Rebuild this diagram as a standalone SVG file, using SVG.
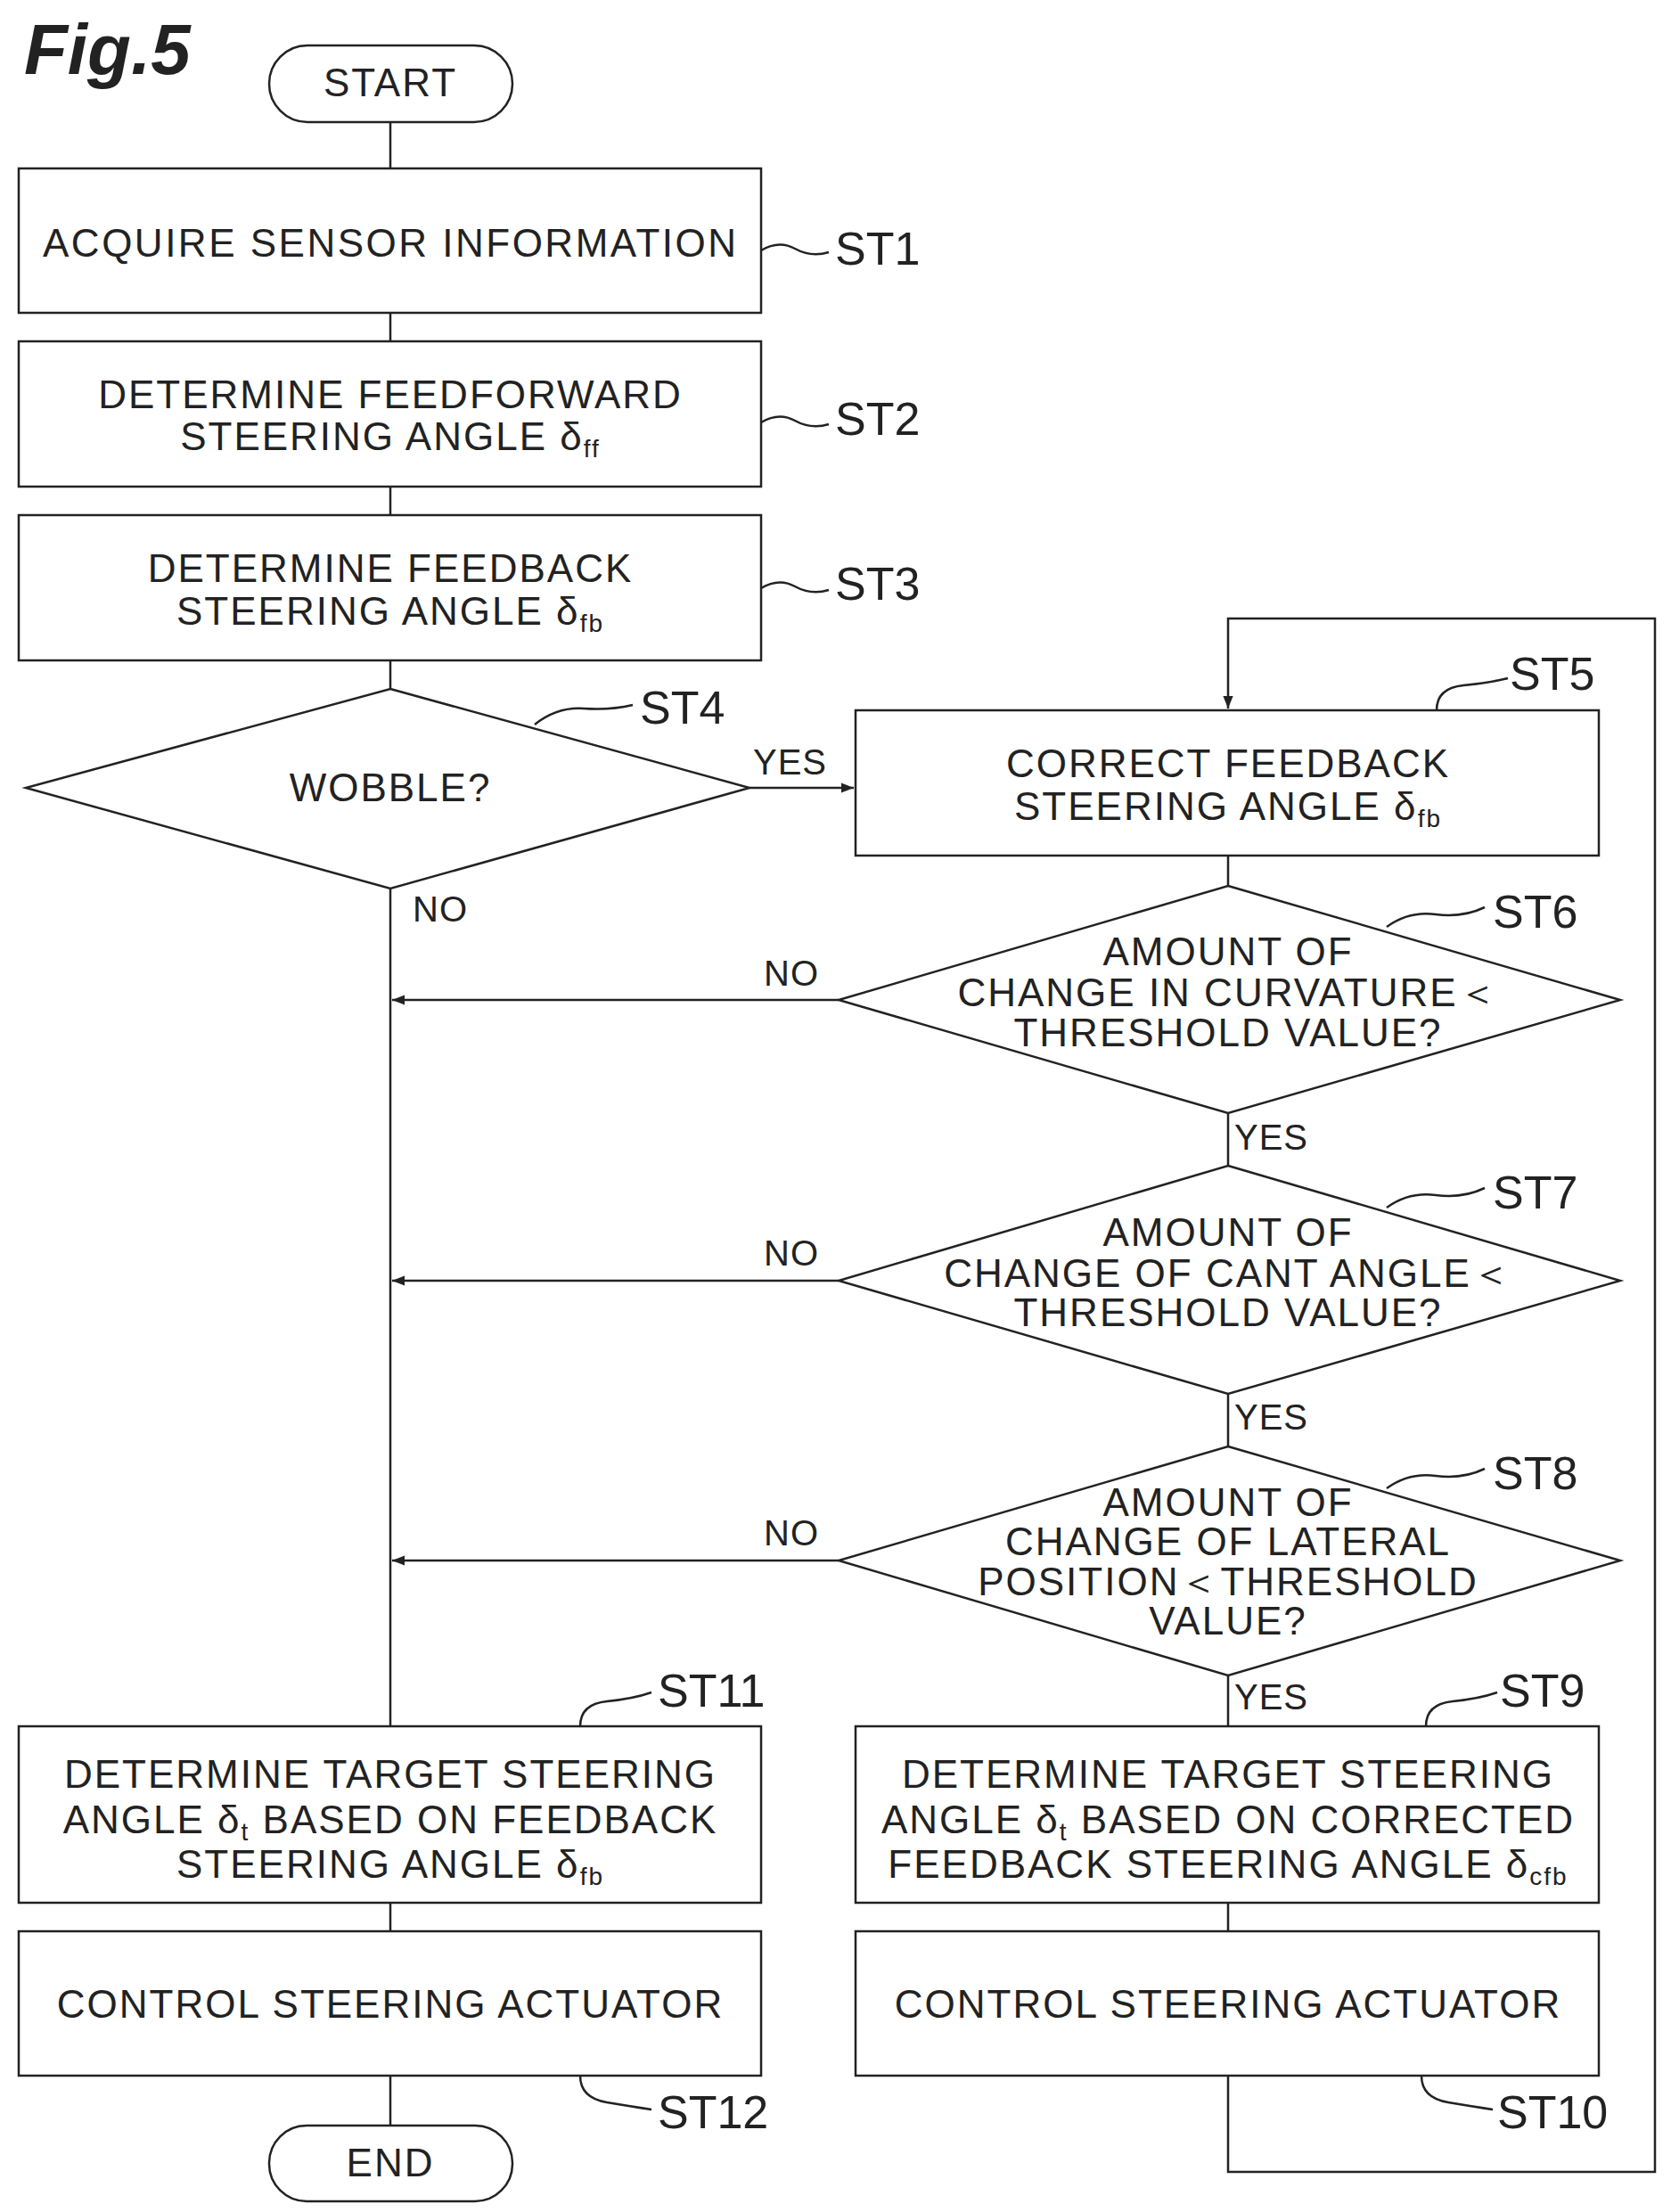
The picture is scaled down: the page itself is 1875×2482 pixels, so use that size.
<svg xmlns="http://www.w3.org/2000/svg" width="1875" height="2482" viewBox="0 0 1875 2482">
<defs>
<style>
.s{fill:none;stroke:#222;stroke-width:2.5}
.b{fill:#fff;stroke:#222;stroke-width:2.5}
text{font-family:"Liberation Sans",Arial,sans-serif;fill:#222}
.t{font-size:44px;text-anchor:middle;letter-spacing:2px}
.l{font-size:52px}
.y{font-size:40px;letter-spacing:1px}
.sub{font-size:28px}
</style>
<marker id="a" viewBox="0 0 10 10" refX="10" refY="5" markerWidth="14" markerHeight="14" markerUnits="userSpaceOnUse" orient="auto"><path d="M0,1 L10,5 L0,9 z" fill="#222"/></marker>
</defs>
<rect width="1875" height="2482" fill="#fff"/>
<text x="27" y="83" style="font-size:80px;font-weight:bold;font-style:italic">Fig.5</text>
<g id="connectors" class="s">
<path d="M438 137V189M438 351V383M438 546V578M438 741V773M438 997V1937M438 2135V2167M438 2329V2385"/>
<path d="M841 884H958" marker-end="url(#a)"/>
<path d="M1378 960V994M1378 1249V1308M1378 1564V1623M1378 1880V1937M1378 2135V2167"/>
<path d="M1378 2329V2437H1857V694H1378V795" marker-end="url(#a)"/>
<path d="M941 1122H440" marker-end="url(#a)"/>
<path d="M941 1437H440" marker-end="url(#a)"/>
<path d="M941 1751H440" marker-end="url(#a)"/>
<path d="M854 281q20 -12 38 -2t38 4"/>
<path d="M854 474q20 -12 38 -2t38 4"/>
<path d="M854 660q20 -12 38 -2t38 4"/>
<path d="M600 813q25 -20 55 -18t55 -4"/>
<path d="M1612 797q0 -25 30 -28t50 -8"/>
<path d="M1556 1040q25 -18 55 -14t55 -8"/>
<path d="M1556 1355q25 -18 55 -14t55 -8"/>
<path d="M1556 1670q25 -18 55 -14t55 -8"/>
<path d="M651 1937q0 -25 30 -28t50 -10"/>
<path d="M1600 1937q0 -25 30 -28t50 -10"/>
<path d="M651 2329q0 25 30 30t50 8"/>
<path d="M1595 2329q0 25 30 30t50 8"/>
</g>
<g id="start"><rect class="b" x="302" y="51" width="273" height="86" rx="43"/><text class="t" x="438" y="108">START</text></g>
<g id="st1"><rect class="b" x="21" y="189" width="833" height="162"/><text class="t" x="438" y="288" textLength="780">ACQUIRE SENSOR INFORMATION</text><text class="l" x="937" y="297">ST1</text></g>
<g id="st2"><rect class="b" x="21" y="383" width="833" height="163"/><text class="t" x="438" y="458">DETERMINE FEEDFORWARD</text><text class="t" x="438" y="505">STEERING ANGLE δ<tspan class="sub" dy="8">ff</tspan></text><text class="l" x="937" y="488">ST2</text></g>
<g id="st3"><rect class="b" x="21" y="578" width="833" height="163"/><text class="t" x="438" y="653">DETERMINE FEEDBACK</text><text class="t" x="438" y="701">STEERING ANGLE δ<tspan class="sub" dy="8">fb</tspan></text><text class="l" x="937" y="673">ST3</text></g>
<g id="st4"><polygon class="b" points="438,773 841,884 438,997 29,884"/><text class="t" x="438" y="899">WOBBLE?</text><text class="l" x="718" y="812">ST4</text><text class="y" x="845" y="869">YES</text><text class="y" x="463" y="1034">NO</text></g>
<g id="st5"><rect class="b" x="960" y="797" width="834" height="163"/><text class="t" x="1378" y="872">CORRECT FEEDBACK</text><text class="t" x="1378" y="920">STEERING ANGLE δ<tspan class="sub" dy="8">fb</tspan></text><text class="l" x="1694" y="774">ST5</text></g>
<g id="st6"><polygon class="b" points="1378,994 1818,1122 1378,1249 941,1122"/><text class="t" x="1378" y="1083">AMOUNT OF</text><text class="t" x="1378" y="1129">CHANGE IN CURVATURE＜</text><text class="t" x="1378" y="1174">THRESHOLD VALUE?</text><text class="l" x="1675" y="1041">ST6</text><text class="y" x="857" y="1106">NO</text><text class="y" x="1385" y="1290">YES</text></g>
<g id="st7"><polygon class="b" points="1378,1308 1818,1437 1378,1564 941,1437"/><text class="t" x="1378" y="1398">AMOUNT OF</text><text class="t" x="1378" y="1444">CHANGE OF CANT ANGLE＜</text><text class="t" x="1378" y="1488">THRESHOLD VALUE?</text><text class="l" x="1675" y="1356">ST7</text><text class="y" x="857" y="1420">NO</text><text class="y" x="1385" y="1604">YES</text></g>
<g id="st8"><polygon class="b" points="1378,1623 1818,1751 1378,1880 941,1751"/><text class="t" x="1378" y="1701">AMOUNT OF</text><text class="t" x="1378" y="1745">CHANGE OF LATERAL</text><text class="t" x="1378" y="1790">POSITION＜THRESHOLD</text><text class="t" x="1378" y="1834">VALUE?</text><text class="l" x="1675" y="1671">ST8</text><text class="y" x="857" y="1734">NO</text><text class="y" x="1385" y="1918">YES</text></g>
<g id="st9"><rect class="b" x="960" y="1937" width="834" height="198"/><text class="t" x="1378" y="2006">DETERMINE TARGET STEERING</text><text class="t" x="1378" y="2057">ANGLE δ<tspan class="sub" dy="8">t</tspan><tspan dy="-8"> BASED ON CORRECTED</tspan></text><text class="t" x="1378" y="2107">FEEDBACK STEERING ANGLE δ<tspan class="sub" dy="8">cfb</tspan></text><text class="l" x="1683" y="1915">ST9</text></g>
<g id="st10"><rect class="b" x="960" y="2167" width="834" height="162"/><text class="t" x="1378" y="2264">CONTROL STEERING ACTUATOR</text><text class="l" x="1680" y="2388">ST10</text></g>
<g id="st11"><rect class="b" x="21" y="1937" width="833" height="198"/><text class="t" x="438" y="2006">DETERMINE TARGET STEERING</text><text class="t" x="438" y="2057">ANGLE δ<tspan class="sub" dy="8">t</tspan><tspan dy="-8"> BASED ON FEEDBACK</tspan></text><text class="t" x="438" y="2107">STEERING ANGLE δ<tspan class="sub" dy="8">fb</tspan></text><text class="l" x="738" y="1915">ST11</text></g>
<g id="st12"><rect class="b" x="21" y="2167" width="833" height="162"/><text class="t" x="438" y="2264">CONTROL STEERING ACTUATOR</text><text class="l" x="738" y="2388">ST12</text></g>
<g id="end"><rect class="b" x="302" y="2385" width="273" height="85" rx="42"/><text class="t" x="438" y="2442">END</text></g>
</svg>
